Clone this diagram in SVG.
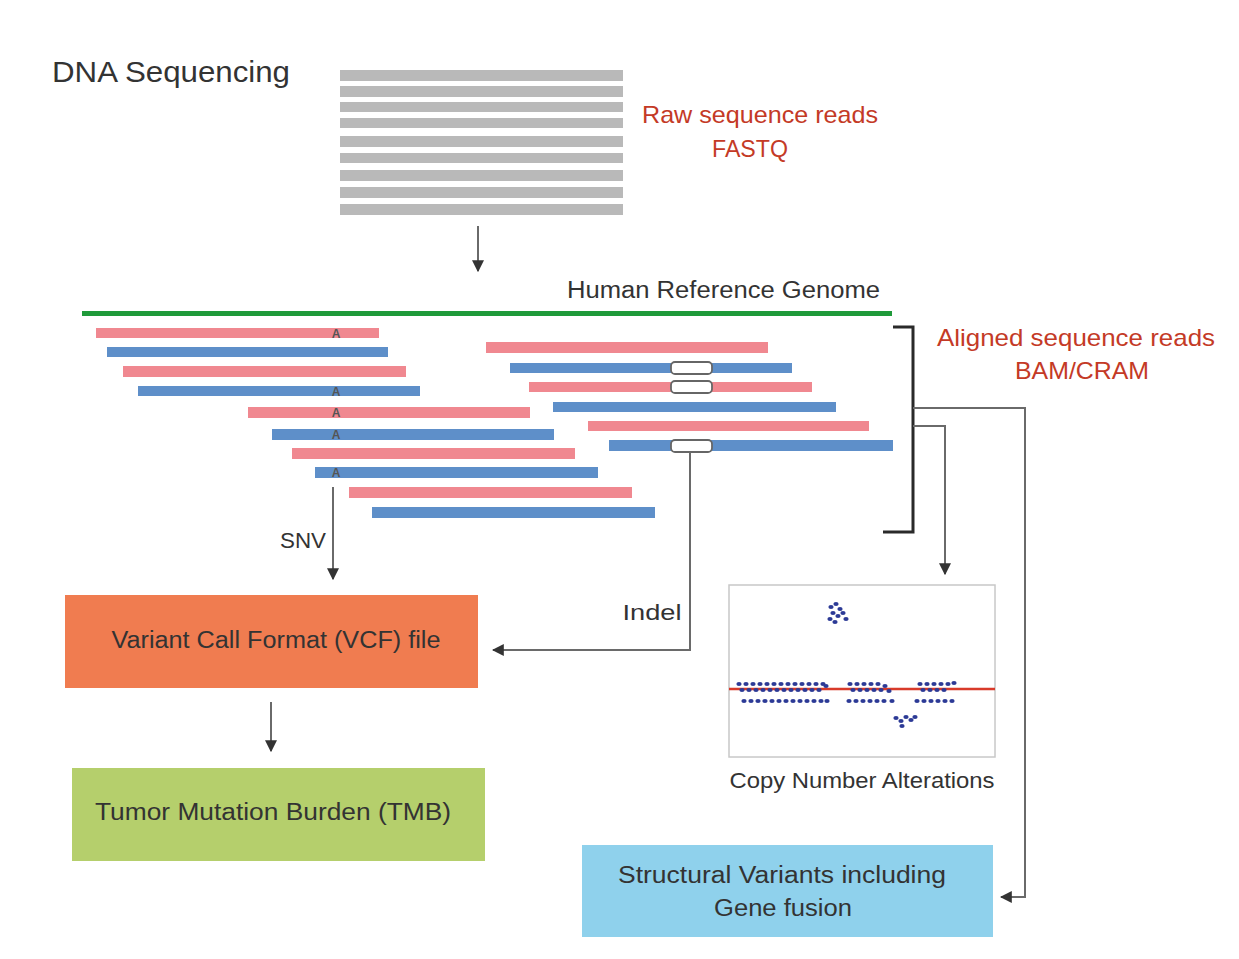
<svg xmlns="http://www.w3.org/2000/svg" width="1239" height="959" viewBox="0 0 1239 959">
<defs>
<style>
.t{font-family:"Liberation Sans",Arial,sans-serif;fill:#333}
.r{font-family:"Liberation Sans",Arial,sans-serif;fill:#c43a26}
.gray{fill:#b9b9b9}
.pk{fill:#f08890}
.bl{fill:#5e8fc9}
.conn{fill:none;stroke:#6a6a6a;stroke-width:2}
.ins{fill:#fff;stroke:#666;stroke-width:1.8}
.a{font-family:"Liberation Sans",Arial,sans-serif;font-size:12px;font-weight:bold;fill:#555}
.d ellipse{fill:#2c3a96;rx:2.6px;ry:2px}
</style>
<marker id="ah" viewBox="0 0 10 10" refX="9" refY="5" markerWidth="6" markerHeight="6" orient="auto-start-reverse">
<path d="M0,0 L10,5 L0,10 z" fill="#333"/>
</marker>
</defs>
<rect width="1239" height="959" fill="#fff"/>

<g id="title"><text class="t" x="52" y="82" font-size="30" textLength="238" lengthAdjust="spacingAndGlyphs">DNA Sequencing</text></g>

<g id="raw-reads">
<rect class="gray" x="340" y="70" width="283" height="11"/>
<rect class="gray" x="340" y="86" width="283" height="11"/>
<rect class="gray" x="340" y="102" width="283" height="10"/>
<rect class="gray" x="340" y="118" width="283" height="10"/>
<rect class="gray" x="340" y="136" width="283" height="11"/>
<rect class="gray" x="340" y="153" width="283" height="10"/>
<rect class="gray" x="340" y="170" width="283" height="11"/>
<rect class="gray" x="340" y="187" width="283" height="11"/>
<rect class="gray" x="340" y="204" width="283" height="11"/>
<text class="r" x="760" y="123" font-size="24" text-anchor="middle" textLength="236" lengthAdjust="spacingAndGlyphs">Raw sequence reads</text>
<text class="r" x="750" y="157" font-size="24" text-anchor="middle" textLength="76" lengthAdjust="spacingAndGlyphs">FASTQ</text>
</g>

<g id="reference">
<rect x="82" y="311" width="810" height="5" fill="#1f9a3a"/>
<text class="t" x="567" y="298" font-size="23" textLength="313" lengthAdjust="spacingAndGlyphs">Human Reference Genome</text>
</g>

<g id="aligned-reads">
<rect class="pk" x="96" y="328" width="283" height="10"/>
<rect class="bl" x="107" y="347" width="281" height="10"/>
<rect class="pk" x="123" y="366" width="283" height="11"/>
<rect class="bl" x="138" y="386" width="282" height="10"/>
<rect class="pk" x="248" y="407" width="282" height="11"/>
<rect class="bl" x="272" y="429" width="282" height="11"/>
<rect class="pk" x="292" y="448" width="283" height="11"/>
<rect class="bl" x="315" y="467" width="283" height="11"/>
<rect class="pk" x="349" y="487" width="283" height="11"/>
<rect class="bl" x="372" y="507" width="283" height="11"/>
<text class="a" x="336" y="338" text-anchor="middle">A</text>
<text class="a" x="336" y="396" text-anchor="middle">A</text>
<text class="a" x="336" y="417" text-anchor="middle">A</text>
<text class="a" x="336" y="439" text-anchor="middle">A</text>
<text class="a" x="336" y="477" text-anchor="middle">A</text>

<rect class="pk" x="486" y="342" width="282" height="11"/>
<rect class="bl" x="510" y="363" width="282" height="10"/>
<rect class="pk" x="529" y="382" width="283" height="10"/>
<rect class="bl" x="553" y="402" width="283" height="10"/>
<rect class="pk" x="588" y="421" width="281" height="10"/>
<rect class="bl" x="609" y="440" width="284" height="11"/>
<rect class="ins" x="671" y="362" width="41" height="12" rx="4"/>
<rect class="ins" x="671" y="381" width="41" height="12" rx="4"/>
<rect class="ins" x="671" y="440" width="41" height="12" rx="4"/>

<path d="M893,327 H913 V532 H883" fill="none" stroke="#2a2a2a" stroke-width="3"/>
<text class="r" x="1076" y="346" font-size="24" text-anchor="middle" textLength="278" lengthAdjust="spacingAndGlyphs">Aligned sequence reads</text>
<text class="r" x="1082" y="379" font-size="24" text-anchor="middle" textLength="134" lengthAdjust="spacingAndGlyphs">BAM/CRAM</text>
</g>

<g id="connectors">
<line class="conn" x1="478" y1="226" x2="478" y2="271" marker-end="url(#ah)"/>
<line class="conn" x1="333" y1="487" x2="333" y2="579" marker-end="url(#ah)"/>
<text class="t" x="303" y="548" font-size="22" text-anchor="middle" textLength="46" lengthAdjust="spacingAndGlyphs">SNV</text>
<path class="conn" d="M690,452 V650 H493" marker-end="url(#ah)"/>
<text class="t" x="652" y="620" font-size="22" text-anchor="middle" textLength="59" lengthAdjust="spacingAndGlyphs">Indel</text>
<path class="conn" d="M913,408 H1025 V897 H1001" marker-end="url(#ah)"/>
<path class="conn" d="M913,426 H945 V574" marker-end="url(#ah)"/>
<line class="conn" x1="271" y1="702" x2="271" y2="751" marker-end="url(#ah)"/>
</g>

<g id="vcf">
<rect x="65" y="595" width="413" height="93" fill="#f07c50"/>
<text class="t" x="276" y="648" font-size="23" text-anchor="middle" textLength="329" lengthAdjust="spacingAndGlyphs">Variant Call Format (VCF) file</text>
</g>

<g id="tmb">
<rect x="72" y="768" width="413" height="93" fill="#b5cf6c"/>
<text class="t" x="273" y="820" font-size="23" text-anchor="middle" textLength="356" lengthAdjust="spacingAndGlyphs">Tumor Mutation Burden (TMB)</text>
</g>

<g id="sv">
<rect x="582" y="845" width="411" height="92" fill="#8fd1ec"/>
<text class="t" x="782" y="883" font-size="23" text-anchor="middle" textLength="328" lengthAdjust="spacingAndGlyphs">Structural Variants including</text>
<text class="t" x="783" y="916" font-size="23" text-anchor="middle" textLength="138" lengthAdjust="spacingAndGlyphs">Gene fusion</text>
</g>

<g id="cna">
<rect x="729" y="585" width="266" height="172" fill="#fff" stroke="#c8c8c8" stroke-width="1.5"/>
<line x1="729" y1="689" x2="995" y2="689" stroke="#d83a2a" stroke-width="2.5"/>
<g class="d">
<ellipse cx="831" cy="607"/><ellipse cx="836" cy="604"/><ellipse cx="840" cy="609"/>
<ellipse cx="833" cy="613"/><ellipse cx="838" cy="616"/><ellipse cx="843" cy="613"/>
<ellipse cx="830" cy="619"/><ellipse cx="835" cy="622"/><ellipse cx="846" cy="619"/>
<ellipse cx="896" cy="718"/><ellipse cx="901" cy="721"/><ellipse cx="906" cy="717"/>
<ellipse cx="911" cy="720"/><ellipse cx="915" cy="717"/><ellipse cx="902" cy="726"/>
</g>
<g class="d">
<ellipse cx="739" cy="684"/><ellipse cx="746" cy="684"/><ellipse cx="753" cy="684"/><ellipse cx="760" cy="684"/><ellipse cx="767" cy="684"/><ellipse cx="774" cy="684"/><ellipse cx="781" cy="684"/><ellipse cx="788" cy="684"/><ellipse cx="795" cy="684"/><ellipse cx="802" cy="684"/><ellipse cx="809" cy="684"/><ellipse cx="816" cy="684"/><ellipse cx="823" cy="684"/>
<ellipse cx="742" cy="690"/><ellipse cx="749" cy="690"/><ellipse cx="756" cy="690"/><ellipse cx="763" cy="690"/><ellipse cx="770" cy="690"/><ellipse cx="777" cy="690"/><ellipse cx="784" cy="690"/><ellipse cx="791" cy="690"/><ellipse cx="798" cy="690"/><ellipse cx="805" cy="690"/><ellipse cx="812" cy="690"/><ellipse cx="819" cy="690"/><ellipse cx="826" cy="686"/>
<ellipse cx="744" cy="701"/><ellipse cx="751" cy="701"/><ellipse cx="758" cy="701"/><ellipse cx="765" cy="701"/><ellipse cx="772" cy="701"/><ellipse cx="779" cy="701"/><ellipse cx="786" cy="701"/><ellipse cx="793" cy="701"/><ellipse cx="800" cy="701"/><ellipse cx="807" cy="701"/><ellipse cx="814" cy="701"/><ellipse cx="821" cy="701"/><ellipse cx="827" cy="701"/>
<ellipse cx="850" cy="684"/><ellipse cx="857" cy="684"/><ellipse cx="864" cy="684"/><ellipse cx="871" cy="684"/><ellipse cx="878" cy="684"/><ellipse cx="885" cy="686"/>
<ellipse cx="853" cy="690"/><ellipse cx="860" cy="690"/><ellipse cx="867" cy="690"/><ellipse cx="874" cy="690"/><ellipse cx="881" cy="690"/><ellipse cx="889" cy="691"/>
<ellipse cx="849" cy="701"/><ellipse cx="856" cy="701"/><ellipse cx="863" cy="701"/><ellipse cx="870" cy="701"/><ellipse cx="877" cy="701"/><ellipse cx="884" cy="701"/><ellipse cx="892" cy="701"/>
<ellipse cx="920" cy="684"/><ellipse cx="927" cy="684"/><ellipse cx="934" cy="684"/><ellipse cx="941" cy="684"/><ellipse cx="948" cy="684"/><ellipse cx="954" cy="683"/>
<ellipse cx="923" cy="690"/><ellipse cx="930" cy="690"/><ellipse cx="937" cy="690"/><ellipse cx="944" cy="690"/>
<ellipse cx="917" cy="701"/><ellipse cx="924" cy="701"/><ellipse cx="931" cy="701"/><ellipse cx="938" cy="701"/><ellipse cx="945" cy="701"/><ellipse cx="952" cy="701"/>
</g>
<text class="t" x="862" y="788" font-size="22" text-anchor="middle" textLength="265" lengthAdjust="spacingAndGlyphs">Copy Number Alterations</text>
</g>
</svg>
